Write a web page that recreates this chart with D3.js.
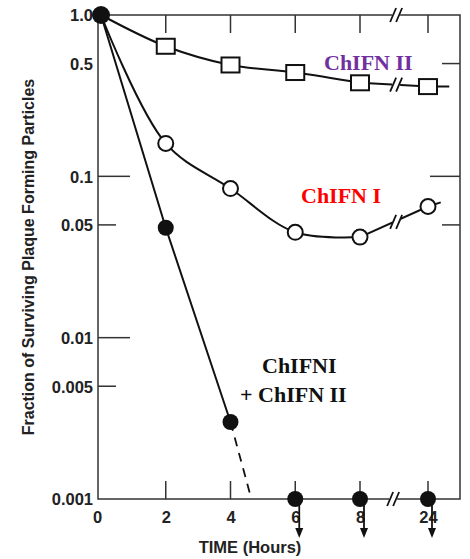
<!DOCTYPE html>
<html>
<head>
  <title>ChIFN survival</title>
  <style>
    body { margin: 0; background: #fff; }
    .tick text { font-family: "Liberation Sans", Arial, sans-serif; font-weight: bold; font-size: 16.5px; fill: #222; }
    .lbl { font-family: "Liberation Serif", "DejaVu Serif", serif; font-weight: bold; font-size: 22px; }
  </style>
</head>
<body>
  <svg id="chart"></svg>
  <script src="https://d3js.org/d3.v7.min.js"></script>
  <script>
    // hours after treatment (24 h sits behind an axis break)
    const hours = [0, 2, 4, 6, 8, 24];
    const ifn2 = [1.0, 0.64, 0.49, 0.44, 0.38, 0.36];
    const ifn1 = [1.0, 0.16, 0.084, 0.045, 0.042, 0.065];
    const combo = [1.0, 0.048, 0.003, 0.001, 0.001, 0.001];
    const comboBelow = [false, false, false, true, true, true]; // below detection limit
    const comboDash = [{ h: 4, v: 0.003 }, { h: 4.6, v: 0.00108 }];
    const yTicks = [1.0, 0.5, 0.1, 0.05, 0.01, 0.005, 0.001];
    const yTickLabels = ["1.0", "0.5", "0.1", "0.05", "0.01", "0.005", "0.001"];
    const leftMarks = [0.1, 0.05, 0.01, 0.005];
    const rightMarks = [0.5, 0.1, 0.05];
    const xTicks = [0, 2, 4, 6, 8, 24];
    const breakHour = 16.5;

    const width = 470, height = 559;
    const frame = { left: 98, right: 460, top: 15, bottom: 499 };

    const svg = d3.select("#chart").attr("width", width).attr("height", height);

    const x = d3.scaleLinear().domain([0, 8, 24]).range([101, 360, 428]);
    const y = d3.scaleLog().domain([0.001, 1]).range([frame.bottom, frame.top]);

    const ink = "#111";

    // frame
    svg.append("rect")
      .attr("x", frame.left).attr("y", frame.top)
      .attr("width", frame.right - frame.left).attr("height", frame.bottom - frame.top)
      .attr("fill", "none").attr("stroke", "#333").attr("stroke-width", 1.5);

    // left tick labels
    const yAxis = svg.append("g")
      .attr("transform", `translate(${frame.left},0)`)
      .call(d3.axisLeft(y).tickValues(yTicks).tickSize(0).tickPadding(5)
        .tickFormat((d, i) => yTickLabels[i]));
    yAxis.select(".domain").remove();
    yAxis.selectAll(".tick text").attr("dy", "0.36em");

    // bottom tick labels
    const xAxis = svg.append("g")
      .attr("transform", `translate(0,${frame.bottom})`)
      .call(d3.axisBottom(x).tickValues(xTicks).tickSize(0).tickPadding(12).tickFormat(d3.format("d")));
    xAxis.select(".domain").remove();
    xAxis.selectAll(".tick text").attr("dx", (d, i) => i === 0 ? "-4px" : "0");

    const major = d => Math.abs(Math.log10(d) - Math.round(Math.log10(d))) < 1e-6;

    // inner ticks
    svg.append("g").selectAll("line").data(leftMarks).join("line")
      .attr("x1", frame.left).attr("x2", d => frame.left + (major(d) ? 32 : 18))
      .attr("y1", d => y(d)).attr("y2", d => y(d))
      .attr("stroke", "#333").attr("stroke-width", 1.5);
    svg.append("g").selectAll("line").data(rightMarks).join("line")
      .attr("x1", frame.right).attr("x2", d => frame.right - (major(d) ? 30 : 18))
      .attr("y1", d => y(d)).attr("y2", d => y(d))
      .attr("stroke", "#333").attr("stroke-width", 1.5);
    const tickHours = xTicks.filter(d => d > 0);
    svg.append("g").selectAll("line").data(tickHours).join("line")
      .attr("x1", d => x(d)).attr("x2", d => x(d))
      .attr("y1", frame.top).attr("y2", frame.top + 18)
      .attr("stroke", "#333").attr("stroke-width", 1.5);
    svg.append("g").selectAll("line").data(tickHours).join("line")
      .attr("x1", d => x(d)).attr("x2", d => x(d))
      .attr("y1", frame.bottom).attr("y2", frame.bottom - 18)
      .attr("stroke", "#333").attr("stroke-width", 1.5);

    // axis titles
    svg.append("text")
      .attr("transform", `translate(34,257) rotate(-90)`)
      .attr("text-anchor", "middle")
      .style("font-family", "Liberation Sans, Arial, sans-serif")
      .style("font-weight", "bold").style("font-size", "16px").attr("fill", "#222")
      .text("Fraction of Surviving Plaque Forming Particles");
    svg.append("text")
      .attr("x", 250).attr("y", 553)
      .attr("text-anchor", "middle")
      .style("font-family", "Liberation Sans, Arial, sans-serif")
      .style("font-weight", "bold").style("font-size", "16.5px").attr("fill", "#222")
      .text("TIME  (Hours)");

    const pts = vals => hours.map((h, i) => ({ h, v: vals[i] }));

    const curved = d3.line().x(d => x(d.h)).y(d => y(d.v)).curve(d3.curveCatmullRom.alpha(0.5));
    const straight = d3.line().x(d => x(d.h)).y(d => y(d.v));

    // ChIFN II: curve up to 8 h, straight on to 24 h
    const p2 = pts(ifn2);
    svg.append("path").attr("d", curved(p2.slice(0, 5)))
      .attr("fill", "none").attr("stroke", ink).attr("stroke-width", 2);
    svg.append("path").attr("d", straight([p2[4], p2[5], { h: 29, v: ifn2[5] }]))
      .attr("fill", "none").attr("stroke", ink).attr("stroke-width", 2);

    // ChIFN I
    const p1 = pts(ifn1);
    svg.append("path").attr("d", curved(p1.slice(0, 5)))
      .attr("fill", "none").attr("stroke", ink).attr("stroke-width", 2);
    svg.append("path").attr("d", straight([p1[4], p1[5], { h: 27, v: 0.069 }]))
      .attr("fill", "none").attr("stroke", ink).attr("stroke-width", 2);

    // combined
    const pc = pts(combo);
    svg.append("path").attr("d", straight(pc.slice(0, 3)))
      .attr("fill", "none").attr("stroke", ink).attr("stroke-width", 2);
    svg.append("path").attr("d", straight(comboDash))
      .attr("fill", "none").attr("stroke", ink).attr("stroke-width", 1.8)
      .attr("stroke-dasharray", "9,7");

    // axis breaks "//"
    function breakMark(cx, cy) {
      const g = svg.append("g").attr("transform", `translate(${cx},${cy})`);
      g.append("rect").attr("x", -4).attr("y", -6).attr("width", 8).attr("height", 12).attr("fill", "#fff");
      [-3, 3].forEach(dx => {
        g.append("line").attr("x1", dx - 3).attr("y1", 7).attr("x2", dx + 3).attr("y2", -7)
          .attr("stroke", ink).attr("stroke-width", 1.8);
      });
    }
    breakMark(x(breakHour), frame.top);
    breakMark(x(breakHour) - 3, frame.bottom);
    breakMark(x(breakHour), y(Math.sqrt(ifn2[4] * ifn2[5])));
    breakMark(x(breakHour), y(Math.sqrt(ifn1[4] * ifn1[5])));

    // arrows for values below the detection limit
    const arrowG = svg.append("g");
    pc.filter((d, i) => comboBelow[i]).forEach(d => {
      const ax = x(d.h) + 4, y0 = y(d.v), tip = y(d.v) + 39;
      arrowG.append("line").attr("x1", ax).attr("x2", ax).attr("y1", y0).attr("y2", tip - 8)
        .attr("stroke", ink).attr("stroke-width", 1.8);
      arrowG.append("path")
        .attr("d", `M${ax - 4},${tip - 10} L${ax + 4},${tip - 10} L${ax},${tip} Z`)
        .attr("fill", ink);
    });

    // markers (0 h symbols sit under the shared start point)
    svg.append("g").selectAll("rect").data(p2.filter(d => d.h > 0)).join("rect")
      .attr("x", d => x(d.h) - 9).attr("y", d => y(d.v) - 7.5)
      .attr("width", 18).attr("height", 15)
      .attr("fill", "#fff").attr("stroke", ink).attr("stroke-width", 2);
    svg.append("g").selectAll("circle").data(p1.filter(d => d.h > 0)).join("circle")
      .attr("cx", d => x(d.h)).attr("cy", d => y(d.v)).attr("r", 7.5)
      .attr("fill", "#fff").attr("stroke", ink).attr("stroke-width", 2);
    svg.append("g").selectAll("circle").data(pc).join("circle")
      .attr("cx", d => x(d.h)).attr("cy", d => y(d.v)).attr("r", d => d.h === 0 ? 9 : 8)
      .attr("fill", ink);

    // series labels
    svg.append("text").attr("class", "lbl").attr("x", 324).attr("y", 70)
      .attr("fill", "#7030a0").text("ChIFN II");
    svg.append("text").attr("class", "lbl").attr("x", 301).attr("y", 203)
      .attr("fill", "#ff0000").text("ChIFN I");
    svg.append("text").attr("class", "lbl").attr("x", 262).attr("y", 373)
      .attr("fill", "#111").text("ChIFNI");
    svg.append("text").attr("class", "lbl").attr("x", 240).attr("y", 402)
      .attr("fill", "#111").text("+ ChIFN II");
  </script>
</body>
</html>
